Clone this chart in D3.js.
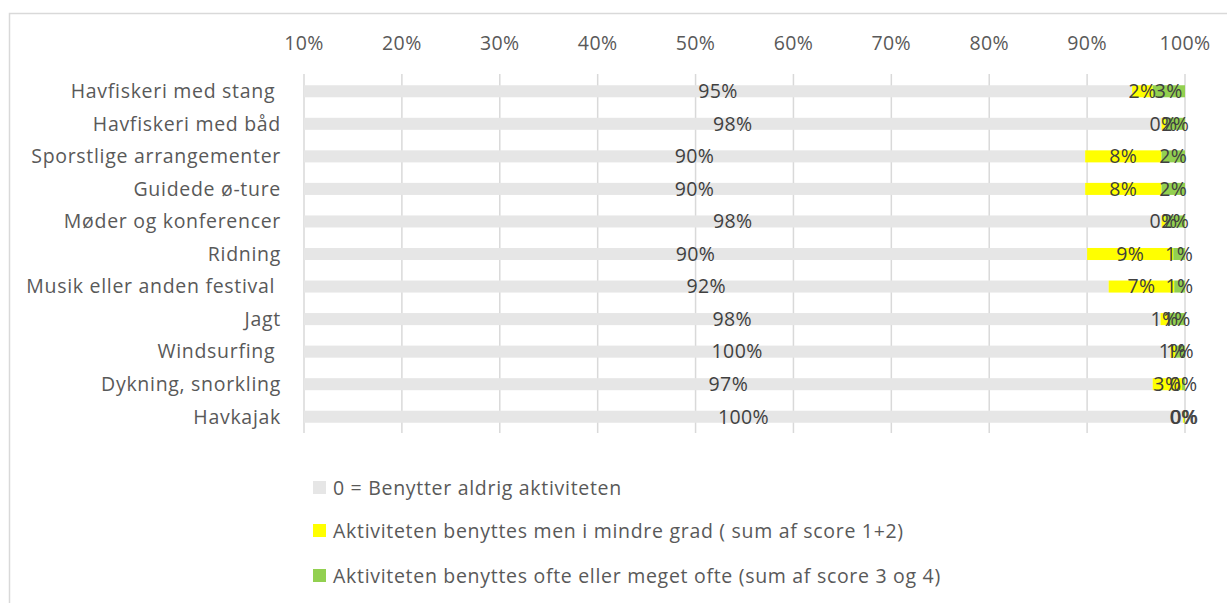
<!DOCTYPE html>
<html>
<head>
<meta charset="utf-8">
<script src="https://cdn.jsdelivr.net/npm/d3@7"></script>
<style>
  body { margin: 0; background: #fff; }
  text { font-family: "Open Sans", Lato, sans-serif; white-space: pre; }
</style>
</head>
<body>
<div id="Chart"></div>
<script>
// categories (top to bottom)
var categories = ["Havfiskeri med stang ", "Havfiskeri med båd", "Sporstlige arrangementer", "Guidede ø-ture",
                  "Møder og konferencer", "Ridning", "Musik eller anden festival ", "Jagt", "Windsurfing ",
                  "Dykning, snorkling", "Havkajak"];

// shares per series
var never = [0.946, 0.976, 0.898, 0.898, 0.976, 0.900, 0.922, 0.975, 0.985, 0.967, 0.998];
var less  = [0.021, 0.004, 0.078, 0.078, 0.004, 0.088, 0.067, 0.008, 0.005, 0.030, 0.001];
var often = [0.033, 0.020, 0.024, 0.024, 0.020, 0.012, 0.011, 0.017, 0.010, 0.003, 0.001];

// data labels as printed in the chart
var neverLbl = ["95%", "98%", "90%", "90%", "98%", "90%", "92%", "98%", "100%", "97%", "100%"];
var lessLbl  = ["2%", "0%", "8%", "8%", "0%", "9%", "7%", "1%", "1%", "3%", "0%"];
var oftenLbl = ["3%", "2%", "2%", "2%", "2%", "1%", "1%", "1%", "1%", "0%", "0%"];

var ticks = [0.1, 0.2, 0.3, 0.4, 0.5, 0.6, 0.7, 0.8, 0.9, 1.0];

var seriesNames = ["0 = Benytter aldrig aktiviteten",
                   "Aktiviteten benyttes men i mindre grad ( sum af score 1+2)",
                   "Aktiviteten benyttes ofte eller meget ofte (sum af score 3 og 4)"];
var colors = ["#e6e6e6", "#ffff00", "#92d050"];

var width = 1227, height = 603;
var fs = 19.5;
var svg = d3.select("#Chart").append("svg")
            .attr("width", width)
            .attr("height", height);

// chart frame
svg.append("rect")
   .attr("x", 9.5).attr("y", 13.5)
   .attr("width", 1240).attr("height", 620)
   .attr("fill", "none")
   .attr("stroke", "#d9d9d9")
   .attr("stroke-width", 1.5);

var x = d3.scaleLinear().domain([0.1, 1.0]).range([304, 1185]).clamp(true);
var y = d3.scaleBand().domain(categories).range([75, 433]).paddingInner(0.63).paddingOuter(0.315);

// gridlines
svg.append("g").selectAll("line")
   .data(ticks)
   .enter().append("line")
   .attr("x1", d => x(d)).attr("x2", d => x(d))
   .attr("y1", 74).attr("y2", 433)
   .attr("stroke", "#d9d9d9")
   .attr("stroke-width", 1.5);

// top tick labels
svg.append("g").selectAll("text")
   .data(ticks)
   .enter().append("text")
   .attr("x", d => x(d))
   .attr("y", 50)
   .attr("text-anchor", "middle")
   .attr("font-size", fs)
   .attr("letter-spacing", 0.4)
   .attr("fill", "#595959")
   .text(d3.format(".0%"));

// category labels
svg.append("g").selectAll("text")
   .data(categories)
   .enter().append("text")
   .attr("x", 281)
   .attr("y", d => y(d) + y.bandwidth() / 2)
   .attr("dy", "0.35em")
   .attr("text-anchor", "end")
   .attr("font-size", fs)
   .attr("letter-spacing", 0.7)
   .attr("fill", "#595959")
   .text(d => d);

// stacked rows
var rows = categories.map((c, i) => ({cat: c, never: never[i], less: less[i], often: often[i]}));
var keys = ["never", "less", "often"];
var labelsBy = {never: neverLbl, less: lessLbl, often: oftenLbl};
var stacked = d3.stack().keys(keys)(rows);

var layer = svg.append("g").selectAll("g")
   .data(stacked)
   .enter().append("g")
   .attr("fill", (d, i) => colors[i]);

layer.selectAll("rect")
   .data(d => d)
   .enter().append("rect")
   .attr("x", d => x(d[0]))
   .attr("width", d => Math.max(0, x(d[1]) - x(d[0])))
   .attr("y", d => y(d.data.cat))
   .attr("height", y.bandwidth());

// data labels
var lab = svg.append("g");
stacked.forEach(function(s) {
    lab.selectAll("text.l-" + s.key)
       .data(s)
       .enter().append("text")
       .attr("class", "l-" + s.key)
       .attr("x", d => (x(d[0]) + x(d[1])) / 2)
       .attr("y", d => y(d.data.cat) + y.bandwidth() / 2)
       .attr("dy", "0.35em")
       .attr("text-anchor", "middle")
       .attr("font-size", fs)
       .attr("letter-spacing", 0.4)
       .attr("fill", "#404040")
       .text((d, i) => labelsBy[s.key][i]);
});

// legend
var legend = svg.append("g").selectAll("g")
   .data(seriesNames)
   .enter().append("g")
   .attr("transform", (d, i) => "translate(313," + [488, 531, 576][i] + ")");
legend.append("rect")
   .attr("x", 0).attr("y", -7)
   .attr("width", 13).attr("height", 13)
   .attr("fill", (d, i) => colors[i]);
legend.append("text")
   .attr("x", 20)
   .attr("y", 0)
   .attr("dy", "0.35em")
   .attr("font-size", fs)
   .attr("letter-spacing", 0.7)
   .attr("fill", "#595959")
   .text(d => d);
</script>
</body>
</html>
